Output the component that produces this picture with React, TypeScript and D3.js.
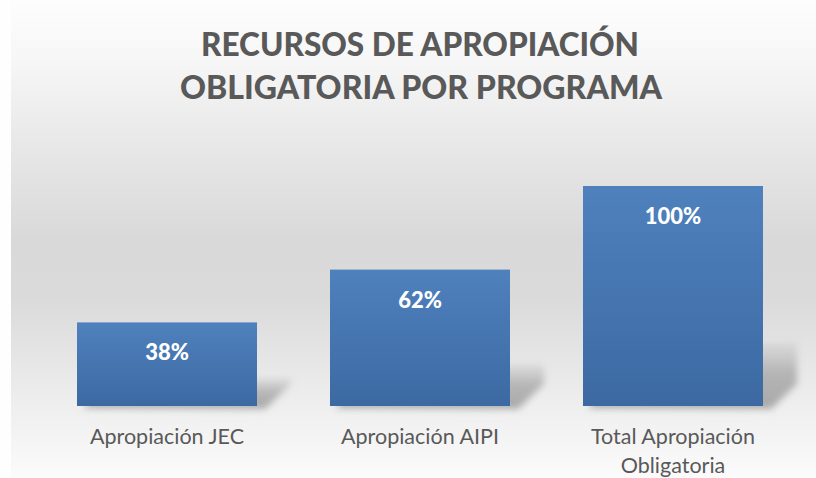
import React from 'react';
import * as d3 from 'd3';

const categories = ['Apropiación JEC', 'Apropiación AIPI', 'Total Apropiación Obligatoria'];
const categoryLines = [['Apropiación JEC'], ['Apropiación AIPI'], ['Total Apropiación', 'Obligatoria']];
const values = [38, 62, 100];
const valueLabels = ['38%', '62%', '100%'];
const titleLines = ['RECURSOS DE APROPIACIÓN', 'OBLIGATORIA POR PROGRAMA'];

const W = 816;
const H = 478;
const FONT = 'Lato, "Open Sans", sans-serif';

const App = () => {
  // escalas
  const x = d3.scaleBand<string>()
    .domain(categories)
    .range([40.5, 799.5])
    .paddingInner(0.2885)
    .paddingOuter(0.14425);
  const y = d3.scaleLinear().domain([0, 100]).range([406, 186]);

  const bw = x.bandwidth();

  // sombra en perspectiva (aprox.)
  const shadowPath = (i: number) => {
    const l = x(categories[i]) as number;
    const r = l + bw;
    const b = y(0);
    const h = b - y(values[i]);
    const top = b - h * 0.26 - 6;
    const s = 34;
    return `M${l + 6},${b + 2} L${l + s},${top} L${r + s},${top} L${r + s},${b - 22} L${r + 8},${b + 3} Z`;
  };

  return (
    <svg width={W} height={H} style={{ display: 'block', position: 'absolute', left: 0, top: 0 }}>
      <defs>
        <linearGradient id="bg" x1="0" y1="0" x2="0" y2="1">
          <stop offset="0" stopColor="#fdfdfd" />
          <stop offset="0.12" stopColor="#f7f7f7" />
          <stop offset="0.3" stopColor="#e8e8e8" />
          <stop offset="0.5" stopColor="#d9d9d9" />
          <stop offset="0.62" stopColor="#dadada" />
          <stop offset="0.82" stopColor="#ececec" />
          <stop offset="1" stopColor="#fbfbfb" />
        </linearGradient>
        <linearGradient id="bar" x1="0" y1="0" x2="0" y2="1">
          <stop offset="0" stopColor="#4f81bd" />
          <stop offset="1" stopColor="#3c69a2" />
        </linearGradient>
        <linearGradient id="shadow" x1="0" y1="0" x2="0" y2="1">
          <stop offset="0" stopColor="#9a9a9a" stopOpacity="0.15" />
          <stop offset="0.45" stopColor="#8a8a8a" stopOpacity="0.55" />
          <stop offset="1" stopColor="#8a8a8a" stopOpacity="0.7" />
        </linearGradient>
        <filter id="blur" x="-20%" y="-40%" width="140%" height="180%">
          <feGaussianBlur stdDeviation="3.5" />
        </filter>
      </defs>

      <rect x={0} y={0} width={W} height={H} fill="#fefefe" />
      <rect x={11} y={0} width={W - 11} height={H} fill="url(#bg)" />

      <g fill="#595959" fontFamily={FONT} fontWeight={900} fontSize={33} textAnchor="middle">
        <text x={420} y={56} textLength={438} lengthAdjust="spacingAndGlyphs">{titleLines[0]}</text>
        <text x={421} y={99} textLength={482} lengthAdjust="spacingAndGlyphs">{titleLines[1]}</text>
      </g>

      <g>
        {categories.map((c, i) => (
          <path key={c} d={shadowPath(i)} fill="url(#shadow)" filter="url(#blur)" />
        ))}
      </g>

      <g>
        {categories.map((c, i) => (
          <rect
            key={c}
            x={x(c)}
            y={y(values[i])}
            width={bw}
            height={y(0) - y(values[i])}
            fill="url(#bar)"
          />
        ))}
      </g>

      <g fill="#ffffff" fontFamily={FONT} fontWeight={900} fontSize={22} textAnchor="middle">
        {categories.map((c, i) => (
          <text key={c} x={(x(c) as number) + bw / 2} y={y(values[i]) + 38}>
            {valueLabels[i]}
          </text>
        ))}
      </g>

      <g fill="#595959" fontFamily={FONT} fontSize={21.5} textAnchor="middle">
        {categories.map((c, i) => (
          <text key={c} x={(x(c) as number) + bw / 2} y={444}>
            {categoryLines[i].map((line, j) => (
              <tspan key={j} x={(x(c) as number) + bw / 2} dy={j === 0 ? 0 : 29}>
                {line}
              </tspan>
            ))}
          </text>
        ))}
      </g>
    </svg>
  );
};

export default App;
